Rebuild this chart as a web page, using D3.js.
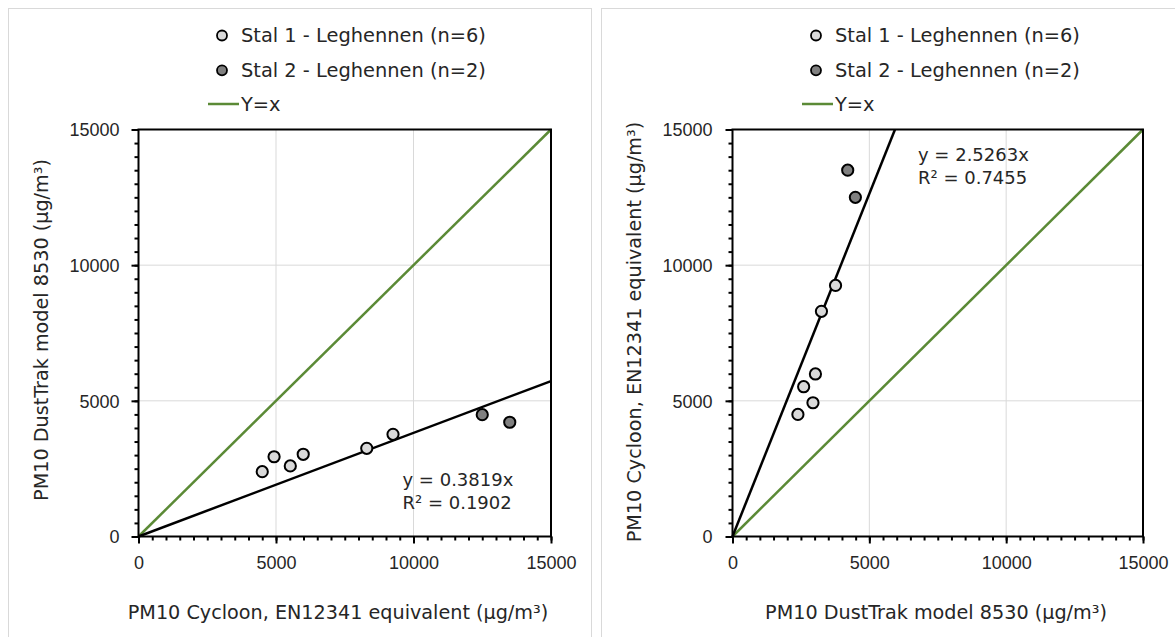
<!DOCTYPE html>
<html><head><meta charset="utf-8">
<script src="https://cdn.jsdelivr.net/npm/d3@7"></script>
<style>
html,body{margin:0;padding:0;background:#fff;}
svg{display:block;font-family:"DejaVu Sans",Verdana,sans-serif;}
</style></head>
<body>
<svg id="c" width="1175" height="637"></svg>
<script>
// ---- data ----
const seriesNames = ["Stal 1 - Leghennen (n=6)", "Stal 2 - Leghennen (n=2)"];
const identityName = "Y=x";
const stal1Cycloon = [4500, 4930, 5520, 5990, 8300, 9255];
const stal1DustTrak = [2390, 2940, 2600, 3030, 3250, 3765];
const stal2Cycloon = [12500, 13500];
const stal2DustTrak = [4490, 4210];
const axisTicks = [0, 5000, 10000, 15000];
const slopes = [0.3819, 2.5263];
const rSquared = [0.1902, 0.7455];
const xTitles = ["PM10 Cycloon, EN12341 equivalent (µg/m³)", "PM10 DustTrak model 8530 (µg/m³)"];
const yTitles = ["PM10 DustTrak model 8530 (µg/m³)", "PM10 Cycloon, EN12341 equivalent (µg/m³)"];

const svg = d3.select("#c");
const FS_TICK = 18, FS_EQ = 18, FS_LEG = 19.4, FS_TITLE = 19.2;
const TXT = "#262626";
const GREEN = "#5b8a36";

function panel(opt) {
  const g = svg.append("g");
  g.append("rect").attr("x", opt.bx).attr("y", 8.5).attr("width", opt.bw).attr("height", 640)
    .attr("fill", "#fff").attr("stroke", "#d9d9d9").attr("stroke-width", 1);

  const x = d3.scaleLinear().domain([0, 15000]).range([opt.px0, opt.px1]);
  const y = d3.scaleLinear().domain([0, 15000]).range([opt.py1, opt.py0]);

  // grid
  g.append("g").selectAll("line").data(axisTicks.slice(1, 3)).join("line")
    .attr("x1", d => x(d)).attr("x2", d => x(d)).attr("y1", y(0)).attr("y2", y(15000))
    .attr("stroke", "#d9d9d9").attr("stroke-width", 1);
  g.append("g").selectAll("line").data(axisTicks.slice(1, 3)).join("line")
    .attr("y1", d => y(d)).attr("y2", d => y(d)).attr("x1", x(0)).attr("x2", x(15000))
    .attr("stroke", "#d9d9d9").attr("stroke-width", 1);

  const minor = d3.range(0, 15001, 500);
  const xa = g.append("g").attr("transform", `translate(0,${y(0)})`)
    .call(d3.axisBottom(x).tickValues(minor).tickSize(4).tickFormat(""));
  const ya = g.append("g").attr("transform", `translate(${x(0)},0)`)
    .call(d3.axisLeft(y).tickValues(minor).tickSize(4).tickFormat(""));
  const xm = g.append("g").attr("transform", `translate(0,${y(0)})`)
    .call(d3.axisBottom(x).tickValues(axisTicks).tickSize(7).tickPadding(13).tickFormat(d3.format("d")));
  const ym = g.append("g").attr("transform", `translate(${x(0)},0)`)
    .call(d3.axisLeft(y).tickValues(axisTicks).tickSize(7).tickPadding(opt.ypad).tickFormat(d3.format("d")));
  [xa, ya, xm, ym].forEach(a => {
    a.select(".domain").remove();
    a.selectAll(".tick line").attr("stroke", "#000").attr("stroke-width", 2);
    a.selectAll("text").attr("font-size", FS_TICK).attr("fill", TXT).attr("font-family", null);
  });
  ym.selectAll("text").attr("dy", "0.36em");

  // identity line
  g.append("line").attr("x1", x(0)).attr("y1", y(0)).attr("x2", x(15000)).attr("y2", y(15000))
    .attr("stroke", GREEN).attr("stroke-width", 2.5);

  // trend line, clipped to plot area
  const s = opt.slope;
  const xEnd = Math.min(15000, 15000 / s);
  g.append("line").attr("x1", x(0)).attr("y1", y(0)).attr("x2", x(xEnd)).attr("y2", y(s * xEnd))
    .attr("stroke", "#000").attr("stroke-width", 2.5);

  // plot frame
  g.append("rect").attr("x", x(0)).attr("y", y(15000)).attr("width", x(15000) - x(0)).attr("height", y(0) - y(15000))
    .attr("fill", "none").attr("stroke", "#000").attr("stroke-width", 2);

  // points
  const sets = [
    {xs: opt.x1, ys: opt.y1, fill: "#d9d9d9"},
    {xs: opt.x2, ys: opt.y2, fill: "#808080"}
  ];
  sets.forEach(st => {
    g.append("g").selectAll("circle").data(d3.zip(st.xs, st.ys)).join("circle")
      .attr("cx", d => x(d[0])).attr("cy", d => y(d[1])).attr("r", 5.6)
      .attr("fill", st.fill).attr("stroke", "#000").attr("stroke-width", 2);
  });

  // equation
  const eq = g.append("text").attr("font-size", FS_EQ).attr("fill", TXT);
  eq.append("tspan").attr("x", opt.eqx).attr("y", opt.eqy).text(`y = ${s.toFixed(4)}x`);
  eq.append("tspan").attr("x", opt.eqx).attr("y", opt.eqy + 22.5).text(`R² = ${opt.r2.toFixed(4)}`);

  // legend
  const tx = opt.legTextX;
  const rows = [35.5, 70.3, 104];
  [0, 1].forEach(i => {
    g.append("circle").attr("cx", tx - 19).attr("cy", rows[i]).attr("r", 5)
      .attr("fill", sets[i].fill).attr("stroke", "#000").attr("stroke-width", 1.8);
    g.append("text").attr("x", tx).attr("y", rows[i]).attr("dy", "0.36em")
      .attr("font-size", FS_LEG).attr("fill", TXT).text(seriesNames[i]);
  });
  g.append("line").attr("x1", tx - 33).attr("x2", tx - 2).attr("y1", rows[2]).attr("y2", rows[2])
    .attr("stroke", GREEN).attr("stroke-width", 2.5);
  g.append("text").attr("x", tx).attr("y", rows[2]).attr("dy", "0.36em")
    .attr("font-size", FS_LEG).attr("fill", TXT).text(identityName);

  // axis titles
  g.append("text").attr("x", opt.xtx).attr("y", 612).attr("dy", "0.36em").attr("text-anchor", "middle")
    .attr("font-size", FS_TITLE).attr("fill", TXT).text(opt.xTitle);
  g.append("text").attr("transform", `translate(${opt.ytx},${opt.yty}) rotate(-90)`)
    .attr("dy", "0.36em").attr("text-anchor", "middle")
    .attr("font-size", FS_TITLE).attr("fill", TXT).text(opt.yTitle);
}

panel({bx: 8.5, bw: 583, px0: 138.5, px1: 551, py0: 129.5, py1: 536.5, ypad: 12,
  x1: stal1Cycloon, y1: stal1DustTrak, x2: stal2Cycloon, y2: stal2DustTrak,
  slope: slopes[0], r2: rSquared[0], eqx: 402.5, eqy: 486, legTextX: 241,
  xTitle: xTitles[0], yTitle: yTitles[0], xtx: 338, ytx: 41, yty: 330});
panel({bx: 601.5, bw: 590, px0: 732.5, px1: 1143, py0: 129.5, py1: 536.5, ypad: 13,
  x1: stal1DustTrak, y1: stal1Cycloon, x2: stal2DustTrak, y2: stal2Cycloon,
  slope: slopes[1], r2: rSquared[1], eqx: 918, eqy: 161, legTextX: 835,
  xTitle: xTitles[1], yTitle: yTitles[1], xtx: 936, ytx: 634, yty: 332});
</script>
</body></html>
